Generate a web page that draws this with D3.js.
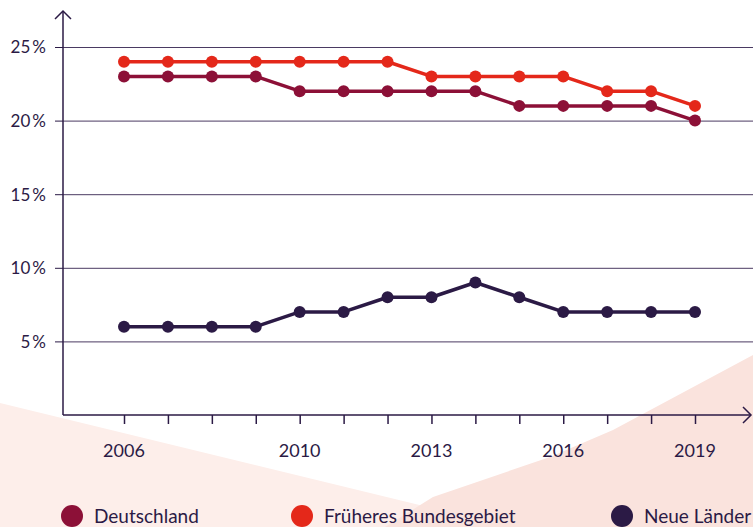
<!DOCTYPE html>
<meta charset="utf-8">
<script src="https://d3js.org/d3.v7.min.js"></script>
<style>
  body { margin: 0; background: #fff; }
  text { font-family: Lato, "Open Sans", sans-serif; fill: #2b1a45; }
</style>
<body>
<div id="chart"></div>
<script>
  // data
  var years = [2006, 2007, 2008, 2009, 2010, 2011, 2012, 2013, 2014, 2015, 2016, 2017, 2018, 2019];
  var labelYears = [2006, 2010, 2013, 2016, 2019];
  var yTicks = [5, 10, 15, 20, 25];
  var deutschland = [23, 23, 23, 23, 22, 22, 22, 22, 22, 21, 21, 21, 21, 20];
  var frueheres = [24, 24, 24, 24, 24, 24, 24, 23, 23, 23, 23, 22, 22, 21];
  var neueLaender = [6, 6, 6, 6, 7, 7, 8, 8, 9, 8, 7, 7, 7, 7];
  var seriesNames = ["Deutschland", "Früheres Bundesgebiet", "Neue Länder"];
  var seriesColors = ["#8c1037", "#e4281a", "#2b1a45"];

  var W = 753, H = 527;
  var svg = d3.select("#chart").append("svg")
    .attr("width", W).attr("height", H);

  // background shapes
  svg.append("path")
    .attr("d", "M0,403 L440,510 L440,527 L0,527 Z")
    .attr("fill", "#fdeeea");
  svg.append("path")
    .attr("d", "M385,527 L433,497 L550,457 L613,430 L753,355 L753,527 Z")
    .attr("fill", "#fae3dd");

  var x = d3.scaleLinear().domain([2006, 2019]).range([124, 695]);
  var y = d3.scaleLinear().domain([0, 25]).range([415, 47]);
  var axisColor = "#2b1a45";

  // gridlines + y ticks
  var yAxis = d3.axisLeft(y).tickValues(yTicks).tickSize(8)
    .tickFormat(function (d) { return d + "\u2009%"; });
  var gy = svg.append("g").attr("transform", "translate(63,0)").call(yAxis);
  gy.select(".domain").remove();
  gy.selectAll(".tick line").attr("stroke", axisColor).attr("stroke-width", 1);
  gy.selectAll(".tick text").attr("x", -17).attr("dy", "0.35em")
    .style("font-size", "17px").attr("fill", axisColor);
  gy.selectAll(".tick").append("line")
    .attr("x1", 0).attr("x2", W - 63)
    .attr("stroke", "#4a3a62").attr("stroke-width", 1);

  // x ticks
  var xAxis = d3.axisBottom(x).tickValues(years).tickSize(9).tickFormat("");
  var gx = svg.append("g").attr("transform", "translate(0,415)").call(xAxis);
  gx.select(".domain").remove();
  gx.selectAll(".tick line").attr("stroke", axisColor).attr("stroke-width", 1.5);

  svg.append("g").selectAll("text")
    .data(labelYears).enter().append("text")
    .attr("x", function (d) { return x(d); })
    .attr("y", 457)
    .attr("text-anchor", "middle")
    .style("font-size", "18px")
    .text(function (d) { return d; });

  // axes with arrows
  svg.append("line").attr("x1", 63).attr("x2", 63).attr("y1", 415).attr("y2", 11)
    .attr("stroke", axisColor).attr("stroke-width", 1.5);
  svg.append("path").attr("d", "M55,19 L63,11 L71,19")
    .attr("fill", "none").attr("stroke", axisColor).attr("stroke-width", 1.5);
  svg.append("line").attr("x1", 63).attr("x2", 751).attr("y1", 415).attr("y2", 415)
    .attr("stroke", axisColor).attr("stroke-width", 1.5);
  svg.append("path").attr("d", "M743,407 L751,415 L743,423")
    .attr("fill", "none").attr("stroke", axisColor).attr("stroke-width", 1.5);

  // lines
  var allSeries = [deutschland, frueheres, neueLaender];
  var line = d3.line()
    .x(function (d, i) { return x(years[i]); })
    .y(function (d) { return y(d); });

  allSeries.forEach(function (vals, k) {
    var g = svg.append("g");
    g.append("path").datum(vals)
      .attr("d", line)
      .attr("fill", "none")
      .attr("stroke", seriesColors[k])
      .attr("stroke-width", 3.5)
      .attr("stroke-linejoin", "round");
    g.selectAll("circle").data(vals).enter().append("circle")
      .attr("cx", function (d, i) { return x(years[i]); })
      .attr("cy", function (d) { return y(d); })
      .attr("r", 6)
      .attr("fill", seriesColors[k]);
  });

  // legend
  var legendX = [72, 302, 622];
  var legend = svg.append("g").selectAll("g")
    .data(seriesNames).enter().append("g")
    .attr("transform", function (d, i) { return "translate(" + legendX[i] + ",516)"; });
  legend.append("circle").attr("r", 11)
    .attr("fill", function (d, i) { return seriesColors[i]; });
  legend.append("text").attr("x", 22).attr("dy", "0.38em")
    .style("font-size", "19px")
    .text(function (d) { return d; });
</script>
</body>
